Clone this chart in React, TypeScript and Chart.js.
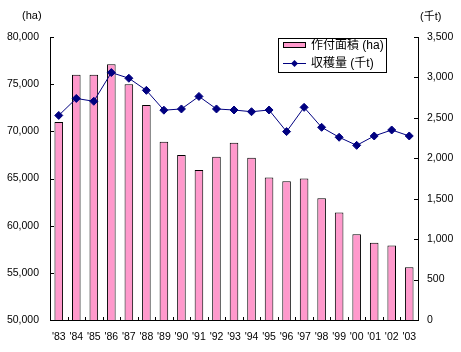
import React, { useEffect, useRef } from "react";
import { Chart, registerables } from "chart.js";

Chart.register(...registerables);

const categories = ["'83", "'84", "'85", "'86", "'87", "'88", "'89", "'90", "'91", "'92", "'93", "'94", "'95", "'96", "'97", "'98", "'99", "'00", "'01", "'02", "'03"];
const areaHa = [71000, 76000, 76000, 77100, 75000, 72800, 68900, 67500, 65900, 67300, 68800, 67200, 65100, 64700, 65000, 62900, 61400, 59100, 58200, 57900, 55600];
const harvestKt = [2530, 2740, 2705, 3060, 2990, 2840, 2595, 2610, 2765, 2610, 2597, 2576, 2597, 2330, 2630, 2383, 2260, 2160, 2276, 2350, 2276];
const areaLabel = "作付面積 (ha)";
const harvestLabel = "収穫量 (千t)";
const leftUnit = "(ha)";
const rightUnit = "(千t)";

const FONT = "'Liberation Sans', 'Noto Sans CJK JP', sans-serif";

const decorPlugin = {
  id: "decor",
  afterDraw(chart: any) {
    const ctx = chart.ctx;
    const area = chart.chartArea;
    const x = chart.scales.x;
    const y = chart.scales.y;
    const y1 = chart.scales.y1;
    ctx.save();
    ctx.strokeStyle = "#000";
    ctx.lineWidth = 1;
    // inward tick marks
    ctx.beginPath();
    y.ticks.forEach((t: any) => {
      const py = Math.round(y.getPixelForValue(t.value)) + 0.5;
      ctx.moveTo(area.left, py);
      ctx.lineTo(area.left + 4, py);
    });
    y1.ticks.forEach((t: any) => {
      const py = Math.round(y1.getPixelForValue(t.value)) + 0.5;
      ctx.moveTo(area.right, py);
      ctx.lineTo(area.right - 4, py);
    });
    for (let i = 1; i < categories.length; i++) {
      const px = Math.round((x.getPixelForValue(i - 1) + x.getPixelForValue(i)) / 2) + 0.5;
      ctx.moveTo(px, area.bottom);
      ctx.lineTo(px, area.bottom - 3);
    }
    ctx.stroke();

    // unit titles
    ctx.fillStyle = "#000";
    ctx.font = `11px ${FONT}`;
    ctx.textBaseline = "middle";
    ctx.textAlign = "left";
    ctx.fillText(leftUnit, 22, 16);
    ctx.fillText(rightUnit, 420, 17);

    // legend
    const lx = 278, ly = 38, lw = 108, lh = 34;
    ctx.fillStyle = "#fff";
    ctx.fillRect(lx, ly, lw, lh);
    ctx.strokeStyle = "#000";
    ctx.strokeRect(lx + 0.5, ly + 0.5, lw, lh);
    const ds = chart.data.datasets;
    // bar entry
    ctx.fillStyle = ds[0].backgroundColor;
    ctx.fillRect(283, 43, 22, 4);
    ctx.strokeRect(283.5, 42.5, 22, 5);
    // line entry
    ctx.strokeStyle = ds[1].borderColor;
    ctx.beginPath();
    ctx.moveTo(283, 63.5);
    ctx.lineTo(306, 63.5);
    ctx.stroke();
    ctx.fillStyle = ds[1].borderColor;
    ctx.beginPath();
    ctx.moveTo(294.5, 60);
    ctx.lineTo(298, 63.5);
    ctx.lineTo(294.5, 67);
    ctx.lineTo(291, 63.5);
    ctx.closePath();
    ctx.fill();
    ctx.fillStyle = "#000";
    ctx.font = `12px ${FONT}`;
    ctx.fillText(ds[0].label, 311, 46);
    ctx.fillText(ds[1].label, 311, 64);
    ctx.restore();
  },
};

export default function App() {
  const ref = useRef<HTMLCanvasElement>(null);
  useEffect(() => {
    const canvas = ref.current;
    if (!canvas) return;
    const chart = new Chart(canvas, {
      type: "bar",
      data: {
        labels: categories,
        datasets: [
          {
            type: "bar",
            label: areaLabel,
            data: areaHa,
            backgroundColor: "#FF99CC",
            borderColor: "#000",
            borderWidth: 1,
            barPercentage: 0.49,
            categoryPercentage: 1,
            yAxisID: "y",
            order: 1,
          },
          {
            type: "line",
            label: harvestLabel,
            data: harvestKt,
            borderColor: "#000080",
            backgroundColor: "#000080",
            borderWidth: 1,
            pointStyle: "rectRot",
            pointRadius: 4,
            pointBackgroundColor: "#000080",
            pointBorderColor: "#000080",
            tension: 0,
            yAxisID: "y1",
            order: 0,
          } as any,
        ],
      },
      options: {
        responsive: false,
        animation: false,
        layout: { padding: { top: 37, left: 0, right: 0, bottom: 0 } },
        plugins: { legend: { display: false }, tooltip: { enabled: false } },
        scales: {
          x: {
            grid: { display: false, drawTicks: false },
            border: { display: true, color: "#000", width: 1 },
            ticks: { color: "#000", font: { family: FONT, size: 10.5 }, padding: 11, maxRotation: 0, autoSkip: false },
            afterFit: (s: any) => { s.height = 32; },
          },
          y: {
            position: "left",
            min: 50000,
            max: 80000,
            grid: { display: false, drawTicks: false },
            border: { display: true, color: "#000", width: 1 },
            ticks: { stepSize: 5000, color: "#000", font: { family: FONT, size: 10.5 }, padding: 11 },
            afterFit: (s: any) => { s.width = 50; },
          },
          y1: {
            position: "right",
            min: 0,
            max: 3500,
            grid: { display: false, drawTicks: false },
            border: { display: true, color: "#000", width: 1 },
            ticks: { stepSize: 500, color: "#000", font: { family: FONT, size: 10.5 }, padding: 9 },
            afterFit: (s: any) => { s.width = 43; },
          },
        },
      },
      plugins: [decorPlugin],
    });
    return () => chart.destroy();
  }, []);
  return (
    <div style={{ position: "fixed", left: 0, top: 0, width: 461, height: 352, background: "#fff" }}>
      <canvas ref={ref} width={461} height={352} style={{ width: 461, height: 352 }} />
    </div>
  );
}
